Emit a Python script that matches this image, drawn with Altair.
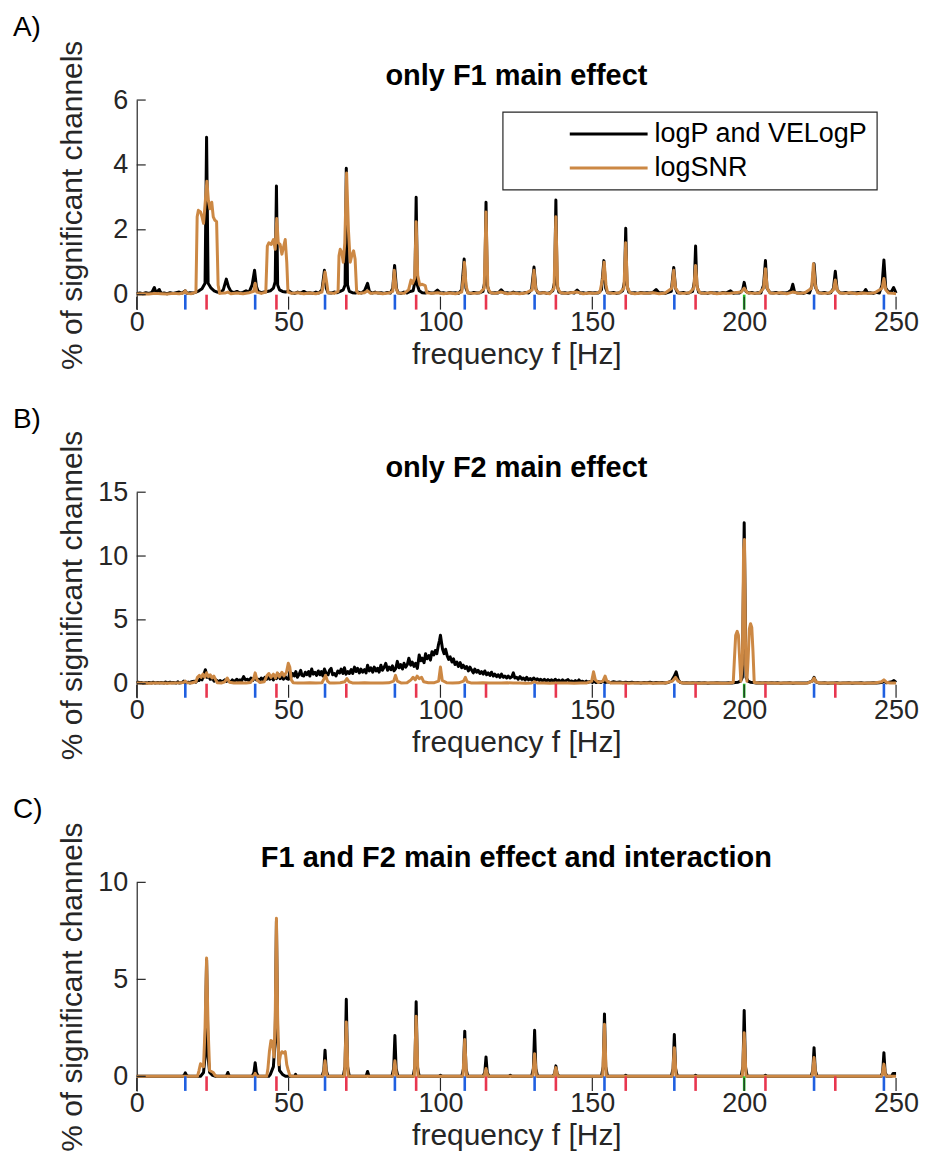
import altair as alt
import pandas as pd

FONT = "Liberation Sans"
AXC = "#262626"
BLACK = "#000000"
ORANGE = "#CC8844"

FREQ_TICKS = [0, 50, 100, 150, 200, 250]
F1_HARM = [23, 46, 69, 92, 115, 138, 161, 184, 207, 230]
INTERMOD = [16, 39, 62, 85, 108, 131, 154, 177, 223, 246]
F2_FREQ = [200]
SERIES = ["logP and VELogP", "logSNR"]
TITLES = ["only F1 main effect", "only F2 main effect", "F1 and F2 main effect and interaction"]
LETTERS = ["A)", "B)", "C)"]

# ---------------- Panel A ----------------
A_LOGP = [(0,0.03),(1,0.05),(2,0.03),(3,0.06),(4,0.04),(5,0.07),(5.8,0.22),(6.4,0.05),(7.4,0.16),(8,0.04),(9,0.05),(10,0.03),(11,0.06),(12,0.04),(13,0.06),(14,0.08),(15,0.05),(16,0.12),(16.6,0.04),(17.5,0.06),(18.5,0.05),(19.5,0.08),(20.5,0.12),(21.5,0.18),(22.5,0.35),(23,4.85),(23.5,0.35),(24.5,0.2),(25.5,0.12),(26.5,0.08),(27.5,0.06),(28.5,0.15),(29.5,0.48),(30.2,0.25),(31,0.1),(32,0.06),(33,0.1),(34,0.05),(35,0.07),(36,0.12),(37,0.08),(38,0.3),(38.8,0.75),(39.4,0.25),(40,0.1),(41,0.06),(42,0.08),(43,0.1),(44,0.12),(45,0.2),(45.6,0.4),(46,3.35),(46.4,0.3),(47,0.15),(48,0.1),(49,0.08),(50,0.12),(51,0.06),(52,0.04),(53,0.08),(54,0.05),(55,0.1),(56,0.05),(57,0.06),(58,0.04),(59,0.08),(60,0.05),(61,0.15),(61.8,0.75),(62.4,0.2),(63,0.06),(64,0.05),(65,0.08),(66,0.06),(67,0.1),(68,0.15),(68.6,0.3),(69,3.9),(69.4,0.3),(70,0.1),(71,0.06),(72,0.05),(73,0.08),(74,0.05),(75,0.12),(76,0.35),(76.6,0.1),(77.5,0.05),(78.5,0.08),(79.5,0.05),(80.5,0.06),(81.5,0.04),(82.5,0.07),(83.5,0.05),(84.3,0.2),(84.9,0.9),(85.5,0.2),(86,0.06),(87,0.04),(88,0.08),(89,0.05),(90,0.1),(91,0.12),(91.6,0.4),(92,3.0),(92.4,0.3),(93,0.12),(94,0.06),(95,0.05),(96,0.08),(97,0.05),(98,0.06),(99,0.14),(100,0.05),(101,0.06),(102,0.04),(103,0.07),(104,0.05),(105,0.06),(106,0.04),(107,0.15),(107.8,1.1),(108.4,0.2),(109,0.06),(110,0.04),(111,0.07),(112,0.05),(113,0.06),(114,0.1),(114.6,0.4),(115,2.85),(115.4,0.3),(116,0.08),(117,0.05),(118,0.06),(119,0.05),(120,0.15),(121,0.05),(122,0.06),(123,0.04),(124,0.08),(125,0.05),(126,0.06),(127,0.04),(128,0.07),(129,0.05),(130,0.15),(130.8,0.85),(131.4,0.2),(132,0.06),(133,0.05),(134,0.07),(135,0.04),(136,0.06),(137,0.12),(137.6,0.4),(138,2.92),(138.4,0.3),(139,0.08),(140,0.05),(141,0.06),(142,0.04),(143,0.07),(144,0.05),(145,0.14),(146,0.05),(147,0.06),(148,0.04),(149,0.07),(150,0.05),(151,0.06),(152,0.05),(153,0.15),(153.8,1.05),(154.4,0.2),(155,0.06),(156,0.05),(157,0.07),(158,0.04),(159,0.06),(160,0.12),(160.6,0.4),(161,2.05),(161.4,0.3),(162,0.08),(163,0.05),(164,0.06),(165,0.04),(166,0.07),(167,0.05),(168,0.06),(169,0.05),(170,0.07),(171,0.16),(172,0.05),(173,0.06),(174,0.04),(175,0.07),(176,0.1),(176.8,0.84),(177.4,0.2),(178,0.06),(179,0.05),(180,0.07),(181,0.04),(182,0.06),(183,0.1),(183.6,0.4),(184,1.5),(184.4,0.3),(185,0.08),(186,0.05),(187,0.06),(188,0.04),(189,0.07),(190,0.05),(191,0.06),(192,0.04),(193,0.07),(194,0.05),(195.5,0.12),(196.5,0.04),(197.5,0.06),(198.5,0.05),(199.5,0.15),(200,0.38),(200.6,0.1),(201.5,0.05),(202.5,0.07),(203.5,0.04),(204.5,0.06),(205.5,0.05),(206.4,0.3),(207,1.05),(207.5,0.2),(208.5,0.06),(209.5,0.05),(210.5,0.07),(211.5,0.04),(212.5,0.06),(213.5,0.05),(214.5,0.07),(215.5,0.15),(216,0.32),(216.6,0.08),(217.5,0.05),(218.5,0.06),(219.5,0.04),(220.5,0.07),(221.5,0.05),(222.4,0.3),(223,0.95),(223.6,0.2),(224.5,0.06),(225.5,0.05),(226.5,0.07),(227.5,0.04),(228.5,0.06),(229.4,0.2),(230,0.72),(230.6,0.15),(231.5,0.06),(232.5,0.05),(233.5,0.07),(234.5,0.04),(235.5,0.06),(236.5,0.05),(237.5,0.07),(238.5,0.05),(239.5,0.08),(240,0.16),(240.6,0.05),(241.5,0.06),(242.5,0.04),(243.5,0.07),(244.5,0.05),(245.4,0.3),(246,1.07),(246.6,0.2),(247.5,0.08),(248.5,0.1),(249.2,0.22),(250,0.05)]

A_SNR = [(0,0.02),(2,0.03),(4,0.02),(6,0.04),(8,0.03),(10,0.02),(12,0.04),(14,0.03),(15.5,0.06),(16,0.12),(16.5,0.04),(18,0.03),(19.5,0.08),(19.9,2.4),(20.3,2.6),(21,2.55),(21.5,2.4),(22,2.2),(22.6,2.9),(23.1,3.5),(23.6,2.9),(24.1,2.65),(24.7,2.85),(25.2,2.4),(25.7,2.3),(26.3,2.25),(26.8,0.3),(27.3,0.04),(29,0.05),(30,0.08),(31,0.03),(33,0.05),(35,0.03),(37,0.06),(38.5,0.1),(39,0.35),(39.5,0.08),(41,0.04),(42.5,0.08),(43,1.5),(43.5,1.6),(44.3,1.55),(45,1.7),(45.6,1.4),(46.1,2.35),(46.6,1.6),(47.2,1.55),(47.8,1.25),(48.3,1.45),(48.9,1.7),(49.4,1.0),(49.8,0.08),(51,0.04),(53,0.06),(55,0.03),(57,0.05),(59,0.03),(61,0.08),(61.6,0.45),(62,0.7),(62.5,0.4),(63,0.06),(65,0.04),(66.3,0.1),(66.6,1.2),(67,1.4),(67.5,1.3),(68,1.0),(68.5,1.6),(69.1,3.75),(69.7,2.0),(70.3,1.0),(70.8,1.2),(71.4,1.35),(71.9,1.1),(72.4,0.1),(73,0.04),(75,0.06),(76,0.12),(77,0.04),(79,0.06),(81,0.03),(83,0.05),(84.3,0.1),(84.8,0.75),(85.4,0.2),(86,0.05),(88,0.04),(89.5,0.15),(90.3,0.45),(90.8,0.35),(91.5,0.5),(92,2.25),(92.5,0.6),(93.2,0.3),(94,0.32),(95,0.28),(95.5,0.06),(97,0.04),(99,0.06),(101,0.03),(103,0.05),(105,0.03),(107,0.08),(107.6,0.6),(107.9,1.0),(108.4,0.3),(109,0.05),(111,0.04),(113,0.06),(114.4,0.2),(115,2.55),(115.6,0.2),(116.5,0.06),(118,0.04),(120,0.08),(122,0.03),(124,0.05),(126,0.03),(128,0.05),(130.2,0.15),(130.8,0.75),(131.4,0.15),(132.5,0.04),(134,0.06),(136,0.03),(137.4,0.2),(138,2.4),(138.6,0.2),(139.5,0.06),(141,0.04),(143,0.06),(145,0.08),(147,0.03),(149,0.05),(151,0.04),(152.5,0.08),(153.4,0.5),(153.9,1.0),(154.5,0.3),(155,0.06),(157,0.04),(159,0.06),(160.4,0.2),(161,1.6),(161.6,0.2),(162.5,0.05),(164,0.03),(166,0.05),(168,0.04),(170,0.06),(172,0.03),(174,0.05),(176.2,0.2),(176.8,0.75),(177.4,0.2),(178.5,0.05),(180,0.04),(182,0.06),(183.4,0.2),(184,0.9),(184.6,0.2),(185.5,0.05),(187,0.04),(189,0.06),(191,0.03),(193,0.05),(195,0.04),(197,0.06),(199,0.08),(200,0.2),(201,0.06),(203,0.04),(205,0.05),(206.4,0.2),(207,0.8),(207.6,0.2),(208.5,0.05),(210,0.04),(212,0.06),(214,0.03),(216,0.08),(218,0.04),(220,0.06),(222.2,0.2),(222.8,0.95),(223.4,0.3),(224.2,0.06),(226,0.04),(228,0.05),(229.4,0.15),(230,0.45),(230.6,0.15),(231.5,0.05),(233,0.04),(235,0.06),(237,0.03),(239,0.05),(241,0.04),(243,0.06),(245.4,0.2),(246,0.5),(246.6,0.15),(247.5,0.05),(249,0.04),(250,0.03)]

# ---------------- Panel B ----------------
B_LOGP = [(0,0.05),(0.5,0.12),(1,0.08),(1.5,0.1),(2,0.04),(3,0.08),(3.5,0.05),(4,0.1),(5,0.06),(5.5,0.12),(6,0.05),(7,0.1),(7.5,0.06),(8,0.09),(9,0.05),(9.5,0.14),(10,0.06),(11,0.12),(11.5,0.07),(12,0.1),(13,0.05),(13.5,0.15),(14,0.06),(15,0.1),(15.5,0.2),(16,0.08),(17,0.12),(17.5,0.06),(18,0.15),(19,0.2),(19.5,0.12),(20,0.3),(20.5,0.25),(21,0.4),(21.5,0.3),(22,0.65),(22.6,1.1),(23.2,0.5),(23.7,0.6),(24.2,0.35),(25,0.4),(25.5,0.2),(26,0.3),(27,0.15),(27.5,0.25),(28,0.12),(29,0.3),(29.5,0.18),(30,0.25),(31,0.12),(31.5,0.3),(32,0.15),(33,0.35),(33.5,0.2),(34,0.3),(34.5,0.2),(35.2,0.55),(35.8,0.3),(36.5,0.35),(37,0.2),(37.6,0.45),(38.2,0.25),(38.8,0.5),(39.4,0.3),(40,0.35),(40.5,0.25),(41,0.45),(41.6,0.3),(42.2,0.5),(42.8,0.35),(43.3,0.65),(43.8,0.35),(44.5,0.5),(45,0.3),(45.5,0.5),(46,0.4),(46.6,0.75),(47.2,0.4),(47.8,0.55),(48.3,0.35),(48.8,0.6),(49.4,0.4),(50,0.35),(50.4,0.95),(50.9,0.55),(51.4,0.8),(51.9,0.6),(52.4,0.95),(52.9,0.5),(53.5,0.75),(54,1.05),(54.4,0.65),(55,0.6),(55.5,0.9),(56,0.7),(56.6,0.95),(57,0.6),(57.6,1.15),(58.1,0.75),(58.7,0.9),(59.2,0.65),(59.8,1.0),(60.3,0.7),(60.8,0.95),(61.3,0.6),(61.8,1.15),(62.4,0.8),(63,0.7),(63.5,1.05),(64,1.2),(64.5,0.7),(65.1,0.8),(65.6,0.6),(66.2,1.0),(66.8,0.85),(67.3,1.15),(67.9,0.8),(68.4,1.25),(68.9,0.75),(69.5,0.95),(70,0.8),(70.6,1.1),(71.1,0.8),(71.7,1.3),(72.2,0.95),(72.7,1.2),(73.3,0.85),(73.8,1.15),(74.4,0.9),(75,1.1),(75.5,0.85),(76,1.45),(76.6,1.0),(77.1,1.25),(77.7,0.9),(78.2,1.3),(78.8,1.0),(79.3,1.2),(79.8,0.9),(80.4,1.45),(80.9,1.05),(81.5,1.3),(82,1.6),(82.6,1.05),(83.1,1.3),(83.7,1.1),(84.2,1.4),(84.7,1.0),(85.3,1.2),(85.8,1.75),(86.4,1.25),(86.9,1.5),(87.5,1.15),(88,1.6),(88.6,1.3),(89.1,1.5),(89.6,2.0),(90.2,1.45),(90.7,1.7),(91.3,1.35),(91.8,1.6),(92.4,1.2),(93,2.25),(93.5,1.8),(94,2.0),(94.6,1.65),(95.1,2.35),(95.6,1.95),(96.2,2.2),(96.7,1.85),(97.2,2.5),(97.8,2.25),(98.3,2.6),(98.8,2.35),(99.3,3.0),(99.7,3.4),(100,3.8),(100.3,3.3),(100.7,2.7),(101.2,2.35),(101.7,2.7),(102.2,2.2),(102.7,1.9),(103.2,2.1),(103.8,1.7),(104.3,1.95),(104.8,1.5),(105.4,1.7),(105.9,1.35),(106.5,1.65),(107,1.25),(107.5,1.45),(108.1,1.2),(108.6,1.35),(109.2,1.0),(109.7,1.3),(110.3,1.05),(110.8,0.85),(111.3,1.15),(111.9,0.9),(112.4,1.05),(113,0.8),(113.5,0.95),(114.1,0.75),(114.6,1.0),(115.2,0.7),(115.7,0.85),(116.3,0.65),(116.8,0.9),(117.4,0.6),(117.9,0.75),(118.5,0.55),(119,0.7),(119.6,0.5),(120.1,0.75),(120.7,0.5),(121.2,0.6),(121.8,0.45),(122.3,0.6),(122.9,0.45),(123.5,0.55),(124,0.85),(124.5,0.45),(125.1,0.5),(125.6,0.35),(126.2,0.55),(126.8,0.35),(127.3,0.45),(127.9,0.3),(128.4,0.5),(129,0.3),(129.6,0.4),(130.1,0.28),(130.7,0.45),(131.3,0.3),(131.9,0.38),(132.5,0.25),(133,0.35),(133.6,0.22),(134.2,0.35),(134.8,0.2),(135.4,0.32),(136,0.22),(136.6,0.3),(137.2,0.18),(137.8,0.35),(138.4,0.2),(139,0.28),(139.6,0.15),(140.2,0.3),(140.8,0.15),(141.4,0.25),(142,0.32),(142.6,0.15),(143.2,0.22),(143.8,0.12),(144.4,0.25),(145,0.12),(145.6,0.3),(146.2,0.12),(146.8,0.2),(147.4,0.1),(148,0.2),(148.6,0.1),(149.2,0.18),(150,0.1),(150.6,0.2),(151.2,0.1),(152,0.15),(152.8,0.1),(153.5,0.2),(154.2,0.1),(155,0.15),(156,0.08),(157,0.15),(158,0.1),(159,0.13),(160,0.07),(161,0.12),(162,0.08),(163,0.12),(164,0.07),(165,0.1),(166,0.06),(167,0.1),(168,0.07),(169,0.12),(170,0.06),(171,0.1),(172,0.07),(173,0.09),(174,0.06),(175,0.1),(176,0.2),(177,0.6),(177.6,0.93),(178.3,0.3),(179,0.1),(180,0.06),(181,0.08),(182,0.05),(183,0.08),(184,0.05),(185,0.07),(186,0.05),(187,0.07),(188,0.04),(189,0.06),(190,0.05),(191,0.07),(192,0.05),(193,0.06),(194,0.05),(195,0.07),(196,0.06),(197,0.1),(198,0.12),(198.8,0.2),(199.4,0.5),(200,12.6),(200.6,0.5),(201.3,0.2),(202,0.12),(203,0.1),(204,0.06),(205,0.08),(206,0.05),(207,0.08),(208,0.05),(209,0.07),(210,0.05),(211,0.07),(212,0.04),(213,0.06),(214,0.05),(215,0.07),(216,0.04),(217,0.06),(218,0.05),(219,0.06),(220,0.05),(221,0.08),(222.4,0.2),(223,0.5),(223.6,0.15),(224.5,0.06),(225.5,0.05),(226.5,0.07),(227.5,0.04),(228.5,0.06),(229.5,0.05),(230.5,0.07),(231.5,0.04),(232.5,0.06),(233.5,0.05),(234.5,0.07),(235.5,0.04),(236.5,0.06),(237.5,0.05),(238.5,0.07),(239.5,0.04),(240.5,0.06),(241.5,0.05),(242.5,0.07),(243.5,0.05),(244.5,0.08),(245.5,0.12),(246,0.2),(246.8,0.08),(247.8,0.12),(248.6,0.15),(249.3,0.25),(250,0.1)]

B_SNR = [(0,0.05),(2,0.06),(4,0.04),(6,0.05),(8,0.06),(10,0.04),(12,0.05),(14,0.07),(15.5,0.1),(16,0.2),(16.5,0.08),(18,0.06),(19.5,0.15),(20,0.5),(20.6,0.65),(21.2,0.5),(21.8,0.75),(22.4,0.5),(23,0.85),(23.6,0.55),(24.2,0.7),(24.8,0.45),(25.4,0.6),(26,0.3),(26.5,0.08),(28,0.06),(29,0.15),(29.8,0.45),(30.5,0.12),(32,0.06),(34,0.08),(36,0.06),(37.5,0.1),(38.5,0.4),(39,0.85),(39.6,0.3),(40.5,0.1),(42,0.15),(42.8,0.6),(43.5,0.8),(44.2,0.5),(45,0.75),(45.7,0.45),(46.3,0.85),(47,0.55),(47.8,0.9),(48.5,0.6),(49.3,0.9),(49.9,1.6),(50.4,1.3),(50.9,0.3),(51.5,0.08),(53,0.06),(55,0.05),(57,0.07),(59,0.05),(61,0.08),(61.7,0.4),(62.2,0.65),(62.8,0.2),(63.5,0.06),(65,0.05),(67,0.07),(68.5,0.15),(69.2,0.4),(69.9,0.15),(71,0.06),(73,0.05),(75,0.07),(77,0.05),(79,0.06),(81,0.05),(83,0.07),(84.6,0.2),(85.2,0.65),(85.8,0.2),(87,0.06),(89,0.07),(90.3,0.3),(91,0.5),(91.7,0.3),(92.3,0.6),(93,0.4),(93.8,0.5),(94.5,0.15),(96,0.07),(98,0.08),(99.4,0.2),(100,1.3),(100.6,0.25),(102,0.08),(104,0.06),(106,0.07),(107.6,0.2),(108.2,0.5),(108.8,0.15),(110,0.06),(112,0.05),(114,0.07),(116,0.05),(118,0.06),(120,0.05),(122,0.07),(124,0.05),(126,0.06),(128,0.04),(130,0.06),(131,0.15),(132,0.05),(134,0.06),(136,0.04),(138,0.06),(140,0.05),(142,0.06),(144,0.04),(146,0.06),(148,0.05),(149.8,0.2),(150.4,0.93),(151,0.3),(152,0.1),(153.5,0.2),(154.2,0.6),(154.8,0.2),(156,0.06),(158,0.05),(160,0.06),(162,0.04),(164,0.06),(166,0.05),(168,0.06),(170,0.04),(172,0.06),(174,0.05),(176.4,0.2),(177.4,0.5),(178.2,0.2),(179.5,0.06),(181,0.05),(183,0.06),(185,0.04),(187,0.06),(189,0.05),(191,0.06),(193,0.04),(195,0.06),(196.4,0.1),(196.8,2.0),(197.2,3.8),(197.7,4.1),(198.1,3.8),(198.5,2.0),(198.9,0.2),(199.4,1.5),(199.8,10.5),(200.1,11.3),(200.5,1.5),(200.9,0.2),(201.3,2.0),(201.7,4.3),(202.1,4.7),(202.5,4.4),(202.9,2.5),(203.3,0.1),(205,0.06),(207,0.05),(209,0.06),(211,0.04),(213,0.06),(215,0.05),(217,0.06),(219,0.04),(221,0.06),(222.4,0.2),(223,0.45),(223.6,0.15),(225,0.06),(227,0.05),(229,0.06),(231,0.04),(233,0.06),(235,0.05),(237,0.06),(239,0.04),(241,0.06),(243,0.05),(245.2,0.15),(246,0.3),(246.8,0.12),(248,0.05),(250,0.05)]

# ---------------- Panel C ----------------
C_LOGP = [(0,0),(15,0),(15.6,0.05),(16,0.18),(16.4,0.05),(17,0),(21,0),(22,0.2),(22.5,1.0),(23,6.0),(23.5,1.0),(24,0.2),(25,0.05),(26,0),(29.5,0),(30,0.2),(30.5,0),(38,0),(38.6,0.2),(39,0.7),(39.4,0.2),(40,0),(43.5,0),(44,0.1),(45,0.5),(45.6,2.0),(46,8.0),(46.4,2.0),(47,0.3),(48,0.1),(49,0),(52,0),(52.3,0.1),(52.6,0),(61,0),(61.6,0.3),(62,1.35),(62.4,0.3),(63,0),(68,0),(68.6,0.5),(69,3.97),(69.4,0.5),(70,0),(75.5,0),(76,0.25),(76.5,0),(84,0),(84.6,0.4),(85,2.1),(85.4,0.4),(86,0),(91,0),(91.6,0.5),(92,3.84),(92.4,0.5),(93,0),(99.5,0),(100,0.05),(100.5,0),(107,0),(107.6,0.4),(108,2.33),(108.4,0.4),(109,0),(114,0),(114.6,0.2),(115,1.0),(115.4,0.2),(116,0),(122.5,0),(123,0.05),(123.5,0),(130,0),(130.6,0.4),(131,2.37),(131.4,0.4),(132,0),(137,0),(137.6,0.15),(138,0.54),(138.4,0.15),(139,0),(153,0),(153.6,0.5),(154,3.22),(154.4,0.5),(155,0),(160.5,0),(161,0.05),(161.5,0),(176,0),(176.6,0.4),(177,2.16),(177.4,0.4),(178,0),(183.5,0),(184,0.05),(184.5,0),(199,0),(199.6,0.5),(200,3.4),(200.4,0.5),(201,0),(206.5,0),(207,0.05),(207.5,0),(222,0),(222.6,0.3),(223,1.48),(223.4,0.3),(224,0),(245,0),(245.6,0.2),(246,1.22),(246.4,0.2),(247,0),(248.5,0),(249,0.15),(250,0.15)]

C_SNR = [(0,0),(20,0),(20.5,0.3),(21,0.65),(21.5,0.55),(22,0.5),(22.5,2.5),(23,6.1),(23.5,2.5),(24,0.3),(24.6,0.25),(25.2,0.2),(25.8,0.05),(26.5,0),(38.5,0),(39,0.15),(39.5,0),(42.8,0),(43.2,0.4),(43.7,1.3),(44.2,1.85),(44.7,1.8),(45.2,1.0),(45.6,3.0),(46,8.15),(46.4,3.0),(46.8,0.6),(47.3,1.1),(47.8,1.27),(48.4,1.2),(48.9,1.27),(49.4,0.6),(49.9,0.3),(50.4,0.05),(51,0),(61.4,0),(62,0.8),(62.6,0),(68.4,0),(69,2.8),(69.6,0),(84.4,0),(85,0.8),(85.6,0),(91.4,0),(92,3.1),(92.6,0),(107.4,0),(108,1.9),(108.6,0),(114.4,0),(115,0.4),(115.6,0),(130.4,0),(131,1.17),(131.6,0),(137.4,0),(138,0.45),(138.6,0),(153.4,0),(154,2.68),(154.6,0),(176.4,0),(177,1.48),(177.6,0),(199.4,0),(200,2.25),(200.6,0),(222.4,0),(223,0.97),(223.6,0),(245.4,0),(246,0.63),(246.6,0),(250,0)]

Y_DOMAINS = [[-0.46, 6], [-1.1, 15], [-0.75, 10]]
Y_TICKS = [[0, 2, 4, 6], [0, 5, 10, 15], [0, 5, 10]]
HEIGHTS = [210, 206, 209]
WIDTH = 761

MARK_KINDS = ["F1 harmonic", "intermodulation", "F2"]
MARK_COLORS = ["#E8364F", "#1F5FE0", "#22C42A"]


def text_layer(txt, x, y, size, weight="normal", align="left", baseline="alphabetic"):
    return alt.Chart(pd.DataFrame({"t": [txt]})).mark_text(
        font=FONT, fontSize=size, fontWeight=weight, align=align, baseline=baseline, color="black"
    ).encode(text="t:N", x=alt.value(x), y=alt.value(y))


def panel(i, black, snr, legend=False):
    h = HEIGHTS[i]
    xs = alt.Scale(domain=[0, 250], nice=False, zero=False)
    ys = alt.Scale(domain=Y_DOMAINS[i], nice=False, zero=False)
    xax = alt.Axis(values=FREQ_TICKS, title="frequency f [Hz]", domain=False, ticks=False, grid=False,
                   labelPadding=0, titlePadding=4, labelFlush=False, labelOverlap=False, format="d",
                   labelFont=FONT, titleFont=FONT, labelFontSize=27, titleFontSize=30,
                   titleFontWeight="normal", labelColor=AXC, titleColor=AXC)
    yax = alt.Axis(values=Y_TICKS[i], title="% of significant channels", domain=True, ticks=False, grid=False,
                   domainColor=AXC, domainWidth=1.2, labelPadding=9, labelFlush=False, labelOverlap=False,
                   format="d", titleX=-64, titleY=h / 2, titleBaseline="middle",
                   labelFont=FONT, titleFont=FONT, labelFontSize=27, titleFontSize=30,
                   titleFontWeight="normal", labelColor=AXC, titleColor=AXC)
    X = alt.X("f:Q", scale=xs, axis=xax)
    Y = alt.Y("v:Q", scale=ys, axis=yax)

    dfb = pd.DataFrame(black, columns=["f", "v"])
    dfs = pd.DataFrame(snr, columns=["f", "v"])
    line_b = alt.Chart(dfb).mark_line(color=BLACK, strokeWidth=3, strokeJoin="round").encode(x=X, y=Y)
    line_s = alt.Chart(dfs).mark_line(color=ORANGE, strokeWidth=3, strokeJoin="round").encode(x=X, y=Y)

    mk = pd.DataFrame({
        "f": F1_HARM + INTERMOD + F2_FREQ,
        "v": [0] * (len(F1_HARM) + len(INTERMOD) + len(F2_FREQ)),
        "k": [MARK_KINDS[0]] * len(F1_HARM) + [MARK_KINDS[1]] * len(INTERMOD) + [MARK_KINDS[2]] * len(F2_FREQ),
    })
    markers = alt.Chart(mk).mark_rule(strokeWidth=2.6).encode(
        x=X, y=Y, y2=alt.value(h),
        color=alt.Color("k:N", scale=alt.Scale(domain=MARK_KINDS, range=MARK_COLORS), legend=None),
    )

    xt = alt.Chart(pd.DataFrame({"f": FREQ_TICKS})).mark_rule(color=AXC, strokeWidth=1.2).encode(
        x=X, y=alt.value(h), y2=alt.value(h - 13))
    yt = alt.Chart(pd.DataFrame({"v": Y_TICKS[i]})).mark_rule(color=AXC, strokeWidth=1.2).encode(
        y=Y, x=alt.value(0), x2=alt.value(9))

    layers = [line_b, line_s, markers, xt, yt,
              text_layer(LETTERS[i], -124, -64, 28),
              text_layer(TITLES[i], WIDTH / 2, -15, 29, weight="bold", align="center")]

    if legend:
        box = alt.Chart(pd.DataFrame({"t": [0]})).mark_rect(fill="white", stroke=AXC, strokeWidth=1.2).encode(
            x=alt.value(367), x2=alt.value(742), y=alt.value(12), y2=alt.value(90))
        layers.append(box)
        for name, col, yy in zip(SERIES, [BLACK, ORANGE], [34, 68]):
            layers.append(alt.Chart(pd.DataFrame({"t": [name]})).mark_rule(color=col, strokeWidth=3).encode(
                x=alt.value(434), x2=alt.value(512), y=alt.value(yy)))
            layers.append(text_layer(name, 519, yy, 27, baseline="middle"))

    return alt.layer(*layers).properties(width=WIDTH, height=h)


chart = alt.vconcat(
    panel(0, A_LOGP, A_SNR, legend=True),
    panel(1, B_LOGP, B_SNR),
    panel(2, C_LOGP, C_SNR),
    spacing=36,
).configure(font=FONT, background="white").configure_view(stroke=None)

chart.save("out.html", embed_options={"renderer": "svg", "actions": False})
